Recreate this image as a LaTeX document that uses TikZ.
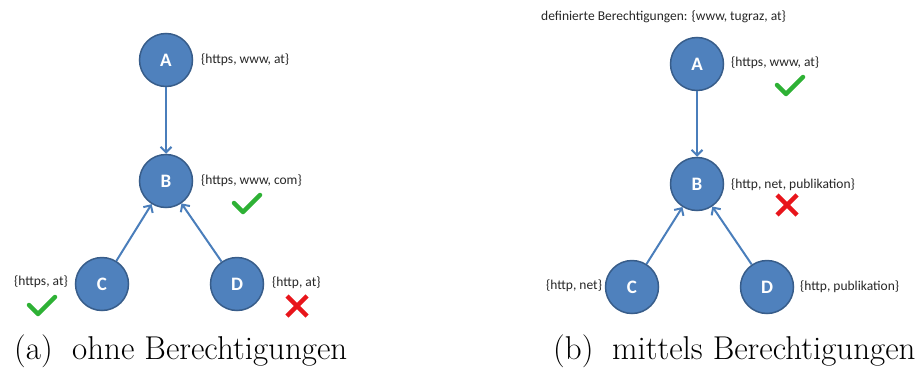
\documentclass[tikz,border=0pt]{standalone}
\usepackage{fontspec}
\newfontfamily\calibri{Carlito}
\usetikzlibrary{arrows.meta}
\definecolor{nodefill}{HTML}{4F81BD}
\definecolor{nodeedge}{HTML}{385D8A}
\definecolor{arrowcol}{HTML}{4A7EBB}
\definecolor{okgreen}{HTML}{2EB135}
\definecolor{badred}{HTML}{E8151B}
\tikzset{
  x=1pt, y=-1pt,
  peer/.style={circle, minimum size=53pt, inner sep=0pt, fill=nodefill, draw=nodeedge, line width=1.5pt,
    text=white, font=\calibri\fontsize{19}{21}\selectfont\bfseries},
  setlabel/.style={anchor=west, inner sep=0pt, font=\calibri\fontsize{13.5}{15}\selectfont, text=black!85},
  link/.style={draw=arrowcol, line width=2pt, -{Straight Barb[length=5.5pt, width=11pt, line width=2pt]}},
  okmark/.style={draw=okgreen, line width=4.5pt, line cap=round, line join=round},
  badmark/.style={draw=badred, line width=4.5pt, line cap=butt},
  caption/.style={anchor=base west, inner sep=0pt, font=\fontsize{33}{37}\selectfont}
}
\newcommand{\checkat}[2]{\draw[okmark] (#1-13,#2-1) -- (#1-4,#2+8) -- (#1+13,#2-9);}
\newcommand{\crossat}[2]{\draw[badmark] (#1-10,#2-10) -- (#1+10,#2+10) (#1-10,#2+10) -- (#1+10,#2-10);}
\begin{document}
\begin{tikzpicture}
\useasboundingbox (0,0) rectangle (920,372);
% left diagram
\node[peer] (A1) at (166,60) {A};
\node[peer] (B1) at (166,181) {B};
\node[peer] (C1) at (102,284) {C};
\node[peer] (D1) at (237,284) {D};
\node[setlabel] (lA1) at (201,60) {\{https, www, at\}};
\node[setlabel] (lB1) at (201,181) {\{https, www, com\}};
\node[setlabel] (lC1) at (14,282) {\{https, at\}};
\node[setlabel] (lD1) at (272,283) {\{http, at\}};
\draw[link] (A1) -- (B1);
\draw[link] (C1) -- (B1);
\draw[link] (D1) -- (B1);
\checkat{247}{204}
\checkat{42}{306}
\crossat{297}{306}
% right diagram
\node[setlabel] (def) at (541,17) {definierte Berechtigungen: \{www, tugraz, at\}};
\node[peer] (A2) at (697,64) {A};
\node[peer] (B2) at (697,184) {B};
\node[peer] (C2) at (632,287) {C};
\node[peer] (D2) at (767,287) {D};
\node[setlabel] (lA2) at (731,63) {\{https, www, at\}};
\node[setlabel] (lB2) at (731,185) {\{http, net, publikation\}};
\node[setlabel] (lC2) at (546,286) {\{http, net\}};
\node[setlabel] (lD2) at (800,287) {\{http, publikation\}};
\draw[link] (A2) -- (B2);
\draw[link] (C2) -- (B2);
\draw[link] (D2) -- (B2);
\checkat{790}{86}
\crossat{787}{205}
% captions
\node[caption] (capa) at (14,359) {(a)};
\node[caption] (capat) at (72,359) {ohne Berechtigungen};
\node[caption] (capb) at (553,359) {(b)};
\node[caption] (capbt) at (612,359) {mittels Berechtigungen};
\end{tikzpicture}
\end{document}
